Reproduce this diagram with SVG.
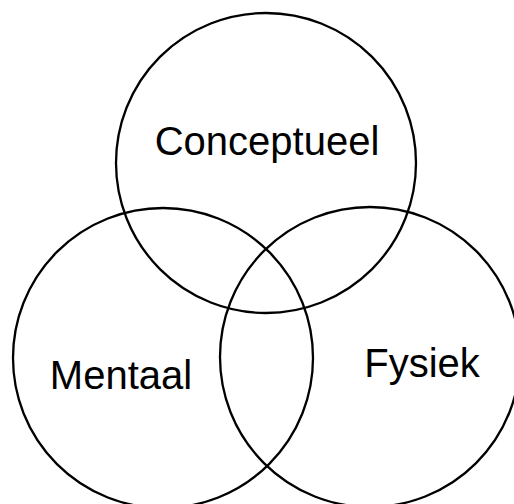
<svg xmlns="http://www.w3.org/2000/svg" width="514" height="504" viewBox="0 0 514 504">
<style>
.c{fill:none;stroke:#000;stroke-width:2.3}
.t{font-family:"Liberation Sans",Arial,Helvetica,sans-serif;font-size:40px;fill:#000;text-anchor:middle}
</style>
<rect width="514" height="504" fill="#fff"/>
<g id="conceptueel">
<circle class="c" cx="266" cy="163" r="150"/>
<text class="t" x="267" y="155">Conceptueel</text>
</g>
<g id="mentaal">
<circle class="c" cx="163" cy="358" r="150"/>
<text class="t" x="121" y="389">Mentaal</text>
</g>
<g id="fysiek">
<circle class="c" cx="370" cy="357" r="150"/>
<text class="t" x="422" y="377">Fysiek</text>
</g>
<g id="connectors"/>
</svg>
